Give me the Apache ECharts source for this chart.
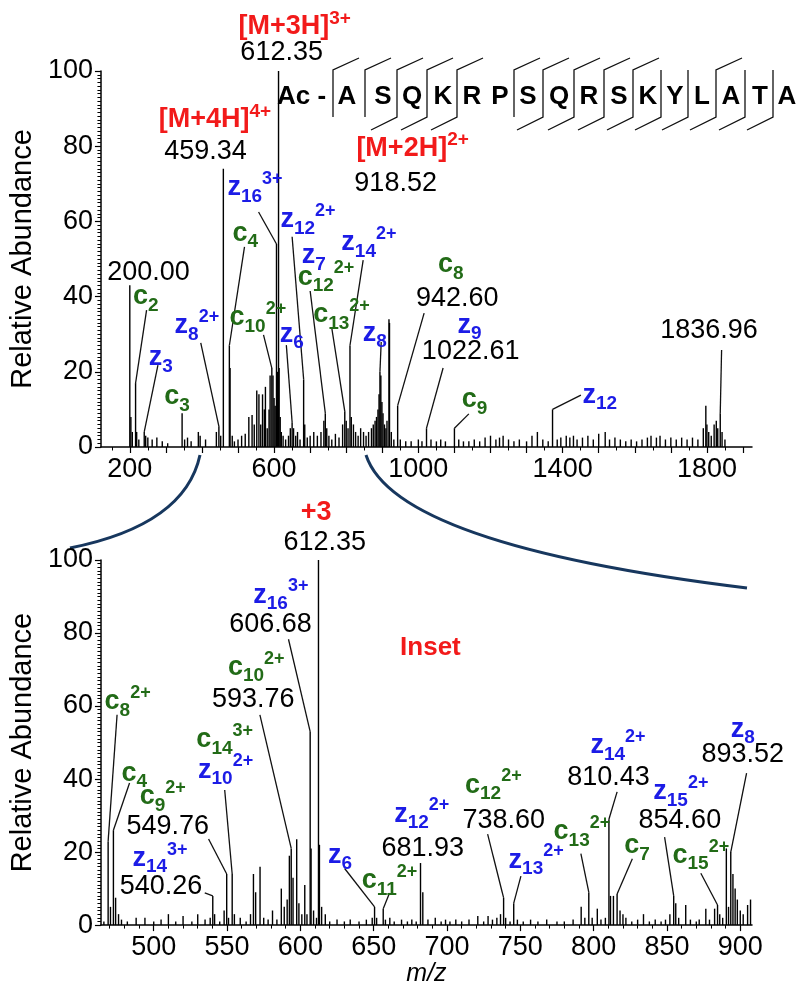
<!DOCTYPE html>
<html>
<head>
<meta charset="utf-8">
<script src="https://cdn.jsdelivr.net/npm/echarts@6/dist/echarts.min.js"></script>
<style>
  html, body { margin: 0; padding: 0; background: #fff; }
  #chart { width: 798px; height: 988px; }
</style>
</head>
<body>
<div id="chart"></div>
<script>
// full scan: [m/z, relative abundance]
const fullPeaks = [
  [200.0, 43], [203, 8], [207, 4], [216, 17], [219, 4], [225, 2], [240, 4], [244, 3], [250, 2.5],
  [262, 2], [275, 2.5], [290, 1.5], [305, 1], [345, 9], [352, 2], [360, 2.5], [370, 1.5], [390, 4],
  [395, 3], [410, 2], [440, 4], [447, 5.5], [452, 3], [459.34, 74], [476, 27], [478, 21], [484, 3],
  [490, 1.5], [500, 2], [510, 3], [520, 3.5], [530, 8], [539, 8.5], [545, 6], [552, 15], [558, 14],
  [563, 6], [568, 14], [573, 10], [576, 16], [581, 5], [586, 10], [589, 19], [593.76, 21], [597, 19],
  [600, 13], [603, 11], [606.68, 54], [609, 20], [612.35, 100], [614, 21], [617, 8], [620, 4],
  [625, 3], [632, 2], [640, 3], [645, 5], [650, 6.6], [654, 5], [660, 3], [665, 4], [672, 2],
  [681.93, 18], [685, 6], [692, 2.5], [700, 3], [710, 4], [720, 3], [730, 4], [738, 7], [742, 9],
  [746, 5], [752, 3], [760, 2], [770, 3.5], [780, 2.5], [790, 6], [796, 9.5], [800, 7], [805, 5],
  [810.43, 27], [814, 8], [820, 6], [826, 4], [833, 3], [840, 5], [848, 4], [855, 3], [862, 4],
  [870, 5], [875, 6], [880, 7], [884, 8], [888, 10], [891, 14], [893.52, 20], [896, 19], [899, 12],
  [902, 9], [906, 6], [910, 5], [913, 7], [918.52, 34], [920, 33], [925, 4], [932, 2], [942.6, 11],
  [950, 2], [965, 1.5], [980, 1.5], [1000, 2], [1010, 1.5], [1022.61, 5], [1035, 2], [1050, 1.5],
  [1062, 2], [1075, 1.5], [1100, 5], [1112, 2], [1125, 1.5], [1140, 1.5], [1155, 2], [1170, 1.5],
  [1185, 2.5], [1200, 3], [1215, 2], [1225, 2.5], [1235, 3], [1250, 2], [1265, 1.5], [1280, 2],
  [1300, 1.5], [1315, 3], [1330, 4], [1345, 2], [1360, 1.5], [1372, 10], [1385, 2], [1395, 2.5],
  [1410, 3], [1420, 2.5], [1430, 3], [1440, 2], [1455, 2.5], [1470, 3], [1485, 2], [1500, 3.5],
  [1518, 4], [1530, 2], [1545, 2.5], [1560, 2], [1575, 1.5], [1590, 2], [1605, 1.5], [1620, 2],
  [1635, 2.5], [1645, 3], [1660, 2.5], [1670, 3], [1685, 2], [1700, 2.5], [1715, 2], [1730, 2.5],
  [1745, 2], [1760, 2.5], [1775, 2], [1790, 5], [1797, 11], [1800, 6], [1805, 4], [1812, 3],
  [1820, 6], [1826, 7], [1830, 5], [1836.96, 9], [1842, 4], [1850, 2]
];

// inset (m/z 464-908)
const insetPeaks = [
  [466, 1], [468.9, 23], [470.5, 5], [472.5, 26], [474, 7.5], [476, 3], [478, 1.5], [482, 1],
  [488, 2], [494, 2], [500, 1], [505, 1.5], [510, 3], [515, 1], [520, 2.5], [526, 1], [530, 3],
  [535, 1.5], [538.5, 2], [540.26, 8], [541.5, 3], [545, 1], [548, 4], [549.76, 14], [551, 2],
  [553.5, 14], [555, 3], [559, 2], [563, 1], [566, 3], [568, 14], [569.5, 9], [572.5, 16], [575, 2],
  [578, 1.5], [581, 4], [584, 1.5], [587, 10], [589, 5], [591, 7], [592.5, 19], [593.76, 21],
  [595, 13], [597.5, 23.5], [599, 6], [601, 3], [603, 11], [604.5, 3], [606.68, 53], [607.3, 21],
  [609, 4], [611, 2], [612.35, 100], [613, 22], [614.5, 5], [617, 3], [620, 1], [625, 1.5], [630, 1],
  [634, 1.5], [640, 1], [645, 1.5], [649, 2], [650.6, 5], [652, 2], [656.5, 4.5], [658, 1.5],
  [661, 2], [664, 1], [669, 1.5], [673, 1], [676, 1.5], [679, 1], [681.93, 17], [683.5, 9],
  [687, 1.5], [692, 2], [696, 1], [699, 1.5], [702, 1], [706, 1.5], [710, 1], [715, 1.5],
  [721, 2.5], [725, 1], [728, 2.5], [731, 1.5], [734, 2], [736.5, 3], [738.6, 7.5], [740, 2],
  [743, 1], [745.5, 6], [748, 1.5], [752, 1], [757, 1.5], [762, 1], [768, 1.5], [775, 1], [780, 1],
  [786, 1.5], [791.5, 5], [794, 2], [796.7, 9], [799, 2], [802.5, 4.5], [805, 1.5], [808, 2],
  [810.43, 29], [811.5, 8], [813.5, 8], [816, 8.5], [818, 4], [820, 3], [822, 2], [826, 1],
  [830, 1.5], [834, 3], [838, 1], [842, 1.5], [846, 1], [849, 1.5], [852, 3], [854.6, 8], [856, 6],
  [858, 2], [862.8, 5.5], [866, 1.5], [870, 1], [872, 1.5], [876.5, 4.5], [879, 1.5], [882.5, 4.5],
  [884.5, 5.5], [886, 3], [888, 2], [890.5, 21], [892, 5], [893.52, 20], [895, 14], [896.5, 10],
  [898, 7], [900, 4], [902, 3], [905, 5.5], [907, 7]
];

const fullLabelValues = [200, 600, 1000, 1400, 1800];
const fullTickValues = [200, 300, 400, 500, 600, 700, 800, 900, 1000, 1100, 1200, 1300, 1400, 1500, 1600, 1700, 1800, 1900];
const fullMinorValues = [150, 250, 350, 450, 550, 650, 750, 850, 950, 1050, 1150, 1250, 1350, 1450, 1550, 1650, 1750, 1850];
const insetLabelValues = [500, 550, 600, 650, 700, 750, 800, 850, 900];
const insetMinorValues = [470, 480, 490, 510, 520, 530, 540, 560, 570, 580, 590, 610, 620, 630, 640,
  660, 670, 680, 690, 710, 720, 730, 740, 760, 770, 780, 790, 810, 820, 830, 840, 860, 870, 880, 890];

const sequence = ['A', 'S', 'Q', 'K', 'R', 'P', 'S', 'Q', 'R', 'S', 'K', 'Y', 'L', 'A', 'T', 'A'];
const zSites = [0, 1, 2, 3, 4, 6, 7, 8, 9, 10, 13];   // cleavage sites with z ions
const cSites = [2, 3, 4, 7, 8, 9, 10, 11, 12, 13, 14, 15]; // cleavage sites with c ions

const FONT = 'Arial, "Liberation Sans", sans-serif';
const BLUE = '#1c1ce6';
const GREEN = '#226b17';
const RED = '#f21a1a';

function ion(k, sub, sup) {
  return '{' + k + '|' + k + '}{' + k + 's|' + sub + '}' + (sup ? '{' + k + 'p|' + sup + '}' : '');
}
function num(t) { return '{n|' + t + '}'; }
function red(t, sup) { return '{R|' + t + '}' + (sup ? '{Rp|' + sup + '}' : ''); }

// annotation text, label anchor [m/z, y] and optional leader line
const fullNotes = [
  [red('[M+3H]', '3+'), [657, 111.7]],
  [num('612.35'), [621, 104.8]],
  [red('[M+4H]', '4+'), [436, 87]],
  [num('459.34'), [410, 78.5]],
  [red('[M+2H]', '2+'), [984, 79.5]],
  [num('918.52'), [937, 70.2]],
  [ion('z', '16', '3+'), [547, 68.9], [[557, 62.5], [606.68, 54]]],
  [ion('c', '4'), [520, 56.9], [[518, 53.2], [476, 27]]],
  [ion('z', '12', '2+'), [694, 60.4], [[650, 55.9], [681.93, 18]]],
  [ion('z', '7'), [710, 50.8]],
  [ion('c', '12', '2+'), [744, 45.2], [[700, 41.5], [742, 9]]],
  [ion('z', '14', '2+'), [863, 54.3], [[847, 49.7], [810.43, 27]]],
  [ion('c', '10', '2+'), [555, 34.3], [[570.6, 29.8], [593.76, 21]]],
  [ion('z', '6'), [649, 30], [[634, 27.1], [650, 6.6]]],
  [ion('c', '13', '2+'), [787, 35.1], [[760, 31.6], [796, 9.5]]],
  [ion('z', '8'), [879, 30.3], [[897, 27.9], [893.52, 20]]],
  [ion('z', '8', '2+'), [386, 32.2], [[396.7, 27.7], [447, 5.5]]],
  [ion('z', '3'), [286, 23.7], [[278, 21.8], [240, 4]]],
  [ion('c', '2'), [244, 39.9], [[246.5, 36.4], [216, 17]]],
  [num('200.00'), [252, 46.5]],
  [ion('c', '3'), [331, 13.3]],
  [ion('c', '8'), [1090, 48.4]],
  [num('942.60'), [1108, 39.6], [[1016, 35.6], [942.6, 11]]],
  [ion('z', '9'), [1142, 32.4]],
  [num('1022.61'), [1145, 25.3], [[1068.6, 21], [1022.61, 5]]],
  [ion('c', '9'), [1156, 12.5], [[1140, 8.8], [1100, 5]]],
  [ion('z', '12'), [1503, 13.8], [[1450.7, 13.8], [1372, 10]]],
  [num('1836.96'), [1806, 30.9], [[1840.7, 25.8], [1836.96, 9]]]
];

const insetNotes = [
  ['{R|+3}', [610.8, 112.9]],
  [num('612.35'), [616.6, 104.8]],
  [ion('z', '16', '3+'), [586.7, 90.3]],
  [num('606.68'), [579.6, 82.3], [[591.9, 78.3], [606.68, 53]]],
  [ion('c', '10', '2+'), [569.9, 70.5]],
  [num('593.76'), [567.9, 61.9], [[572.4, 57.6], [593.76, 21]]],
  [ion('c', '8', '2+'), [482.2, 61.1], [[475, 57.6], [468.9, 23]]],
  [ion('c', '14', '3+'), [548.4, 50.7]],
  [ion('z', '10', '2+'), [549, 42.4], [[548.4, 37], [553.5, 14]]],
  [ion('c', '4'), [486.7, 41.6], [[483.5, 38.9], [472.5, 26]]],
  [ion('c', '9', '2+'), [506.2, 35.1]],
  [num('549.76'), [509.5, 27.1], [[537.4, 23.6], [549.76, 14]]],
  [ion('z', '14', '3+'), [504.3, 18.2]],
  [num('540.26'), [504.9, 10.5], [[534.8, 8.8], [540.26, 8]]],
  [ion('z', '6'), [627, 19], [[630.2, 15.5], [650.6, 5]]],
  [ion('c', '11', '2+'), [660.8, 12.1], [[660.8, 8.8], [656.5, 4.5]]],
  [ion('z', '12', '2+'), [682.8, 30.3]],
  [num('681.93'), [683.5, 20.9]],
  [ion('c', '12', '2+'), [731.6, 38.3]],
  [num('738.60'), [738.7, 28.7], [[727.7, 24.9], [738.6, 7.5]]],
  [ion('z', '13', '2+'), [760.8, 17.7], [[750.4, 13.4], [745.5, 6]]],
  [ion('c', '13', '2+'), [792, 25.5], [[791.3, 19.6], [796.7, 9]]],
  [ion('z', '14', '2+'), [816.6, 49.1]],
  [num('810.43'), [810.1, 40.5], [[816, 36.5], [810.43, 29]]],
  [ion('c', '7'), [829.6, 21.7], [[826.4, 18.2], [816, 8.5]]],
  [ion('z', '15', '2+'), [859.5, 36.5]],
  [num('854.60'), [858.8, 28.7], [[848.4, 24.1], [854.6, 8]]],
  [ion('c', '15', '2+'), [873.1, 19], [[873.1, 14.2], [884.5, 5.5]]],
  [ion('z', '8'), [901.7, 53.6]],
  [num('893.52'), [901.7, 46.6], [[904.3, 41.6], [893.52, 20]]],
  ['{I|Inset}', [688.7, 75.9]]
];

const rich = {
  n: { fontSize: 27, color: '#000', lineHeight: 36, verticalAlign: 'middle', fontFamily: FONT },
  R: { fontSize: 27, fontWeight: 'bold', color: RED, lineHeight: 36, verticalAlign: 'middle', fontFamily: FONT },
  Rp: { fontSize: 19, fontWeight: 'bold', color: RED, lineHeight: 17, verticalAlign: 'top', fontFamily: FONT },
  I: { fontSize: 26, fontWeight: 'bold', color: RED, lineHeight: 36, verticalAlign: 'middle', fontFamily: FONT },
  z: { fontSize: 27, fontWeight: 'bold', color: BLUE, lineHeight: 36, verticalAlign: 'middle', fontFamily: FONT },
  zs: { fontSize: 19, fontWeight: 'bold', color: BLUE, lineHeight: 19, verticalAlign: 'bottom', fontFamily: FONT },
  zp: { fontSize: 18, fontWeight: 'bold', color: BLUE, lineHeight: 32, verticalAlign: 'top', fontFamily: FONT },
  c: { fontSize: 27, fontWeight: 'bold', color: GREEN, lineHeight: 36, verticalAlign: 'middle', fontFamily: FONT },
  cs: { fontSize: 19, fontWeight: 'bold', color: GREEN, lineHeight: 19, verticalAlign: 'bottom', fontFamily: FONT },
  cp: { fontSize: 18, fontWeight: 'bold', color: GREEN, lineHeight: 32, verticalAlign: 'top', fontFamily: FONT }
};

function renderStick(params, api) {
  const top = api.coord([api.value(0), api.value(1)]);
  const base = api.coord([api.value(0), 0]);
  return {
    type: 'line',
    shape: { x1: base[0], y1: base[1], x2: top[0], y2: top[1] },
    style: { stroke: '#000', lineWidth: 1.4 }
  };
}

function stickSeries(data, axis) {
  return {
    type: 'custom', xAxisIndex: axis.x, yAxisIndex: axis.y,
    renderItem: renderStick, encode: { x: 0, y: 1 }, data: data, silent: true
  };
}
function leaderSeries(notes, axis) {
  return {
    type: 'lines', coordinateSystem: 'cartesian2d', xAxisIndex: axis.x, yAxisIndex: axis.y,
    silent: true, lineStyle: { color: '#111', width: 1.3, opacity: 1 },
    data: notes.filter(n => n[2]).map(n => ({ coords: n[2] }))
  };
}
function labelSeries(notes, axis) {
  return {
    type: 'scatter', xAxisIndex: axis.x, yAxisIndex: axis.y, clip: false, silent: true,
    symbolSize: 0, z: 5, itemStyle: { opacity: 1 },
    label: { show: true, position: 'inside', fontFamily: FONT, opacity: 1, rich: rich },
    data: notes.map(n => ({ value: n[1], label: { formatter: n[0] } }))
  };
}

const axisBlack = { color: '#000', width: 1.5 };
function xMain(grid, min, max, ticks, labels) {
  return {
    type: 'value', gridIndex: grid, min: min, max: max, position: 'bottom',
    axisLine: { onZero: false, lineStyle: axisBlack },
    axisTick: { customValues: ticks, length: 6, lineStyle: { color: '#000', width: 1.2 } },
    axisLabel: { customValues: labels, margin: 9, fontSize: 27, color: '#000', fontFamily: FONT,
      formatter: v => String(v) },
    splitLine: { show: false }
  };
}
function xMinor(grid, min, max, ticks) {
  return {
    type: 'value', gridIndex: grid, min: min, max: max, position: 'bottom',
    axisLine: { show: false },
    axisTick: { customValues: ticks, length: 3.5, lineStyle: { color: '#000', width: 1 } },
    axisLabel: { show: false }, splitLine: { show: false }
  };
}
function yAxis(grid) {
  return {
    type: 'value', gridIndex: grid, min: 0, max: 100, interval: 20,
    name: 'Relative Abundance', nameLocation: 'middle', nameGap: 37,
    nameTextStyle: { fontSize: 29, color: '#000', fontFamily: FONT },
    axisLine: { show: true, onZero: false, lineStyle: axisBlack },
    axisTick: { show: true, length: 6, lineStyle: { color: '#000', width: 1.2 } },
    minorTick: { show: true, splitNumber: 20, length: 3.5, lineStyle: { color: '#000', width: 1 } },
    axisLabel: { margin: 8, fontSize: 27, color: '#000', fontFamily: FONT },
    splitLine: { show: false }, minorSplitLine: { show: false }
  };
}

// peptide map drawn above the full scan
const seqX = [347, 383, 412, 443, 472, 500, 528, 559, 589, 619, 648, 675, 702, 731, 760, 787];
const siteX = [333, 365, 397, 427, 457, 486, 514, 543, 574, 604, 633, 661, 688, 716, 745, 773];
const seqGraphics = [{
  type: 'text', style: { text: 'Ac -', x: 277, y: 97, font: 'bold 26px ' + FONT, fill: '#000', align: 'left', verticalAlign: 'middle' }
}];
sequence.forEach((aa, i) => {
  seqGraphics.push({
    type: 'text',
    style: { text: aa, x: seqX[i], y: 97, font: 'bold 26px ' + FONT, fill: '#000', align: 'center', verticalAlign: 'middle' }
  });
});
siteX.forEach((x, k) => {
  const hasZ = zSites.indexOf(k) >= 0, hasC = cSites.indexOf(k) >= 0;
  if (!hasZ && !hasC) return;
  const pts = [];
  if (hasC) pts.push([x - 26, 130]);
  pts.push([x, 117], [x, 70]);
  if (hasZ) pts.push([x + 26, 58]);
  seqGraphics.push({ type: 'polyline', shape: { points: pts }, style: { stroke: '#111', lineWidth: 1.3, fill: null } });
});

const zoomCurves = [
  { type: 'bezierCurve', shape: { x1: 200, y1: 455, cpx1: 185, cpy1: 525, x2: 70, y2: 548 },
    style: { stroke: '#17375e', lineWidth: 3, fill: null } },
  { type: 'bezierCurve', shape: { x1: 366, y1: 455, cpx1: 395, cpy1: 545, x2: 747, y2: 588 },
    style: { stroke: '#17375e', lineWidth: 3, fill: null } }
];

const chart = echarts.init(document.getElementById('chart'), null, { renderer: 'canvas' });
const topAxes = { x: 0, y: 0 };
const insetAxes = { x: 2, y: 1 };
const insetX = xMain(1, 464, 908, insetLabelValues, insetLabelValues);
insetX.name = 'm/z';
insetX.nameLocation = 'middle';
insetX.nameGap = 32;
insetX.nameTextStyle = { fontSize: 25, fontStyle: 'italic', color: '#000', fontFamily: FONT };

chart.setOption({
  backgroundColor: '#fff',
  animation: false,
  textStyle: { fontFamily: FONT },
  grid: [
    { left: 67, right: 46, top: 71, height: 376 },
    { left: 67, right: 46, top: 560, height: 373 }
  ],
  xAxis: [
    xMain(0, 120, 1925, fullTickValues, fullLabelValues),
    xMinor(0, 120, 1925, fullMinorValues),
    insetX,
    xMinor(1, 464, 908, insetMinorValues)
  ],
  yAxis: [yAxis(0), yAxis(1)],
  series: [
    stickSeries(fullPeaks, topAxes),
    stickSeries(insetPeaks, insetAxes),
    leaderSeries(fullNotes, topAxes),
    leaderSeries(insetNotes, insetAxes),
    labelSeries(fullNotes, topAxes),
    labelSeries(insetNotes, insetAxes)
  ],
  graphic: seqGraphics.concat(zoomCurves)
});
</script>
</body>
</html>
